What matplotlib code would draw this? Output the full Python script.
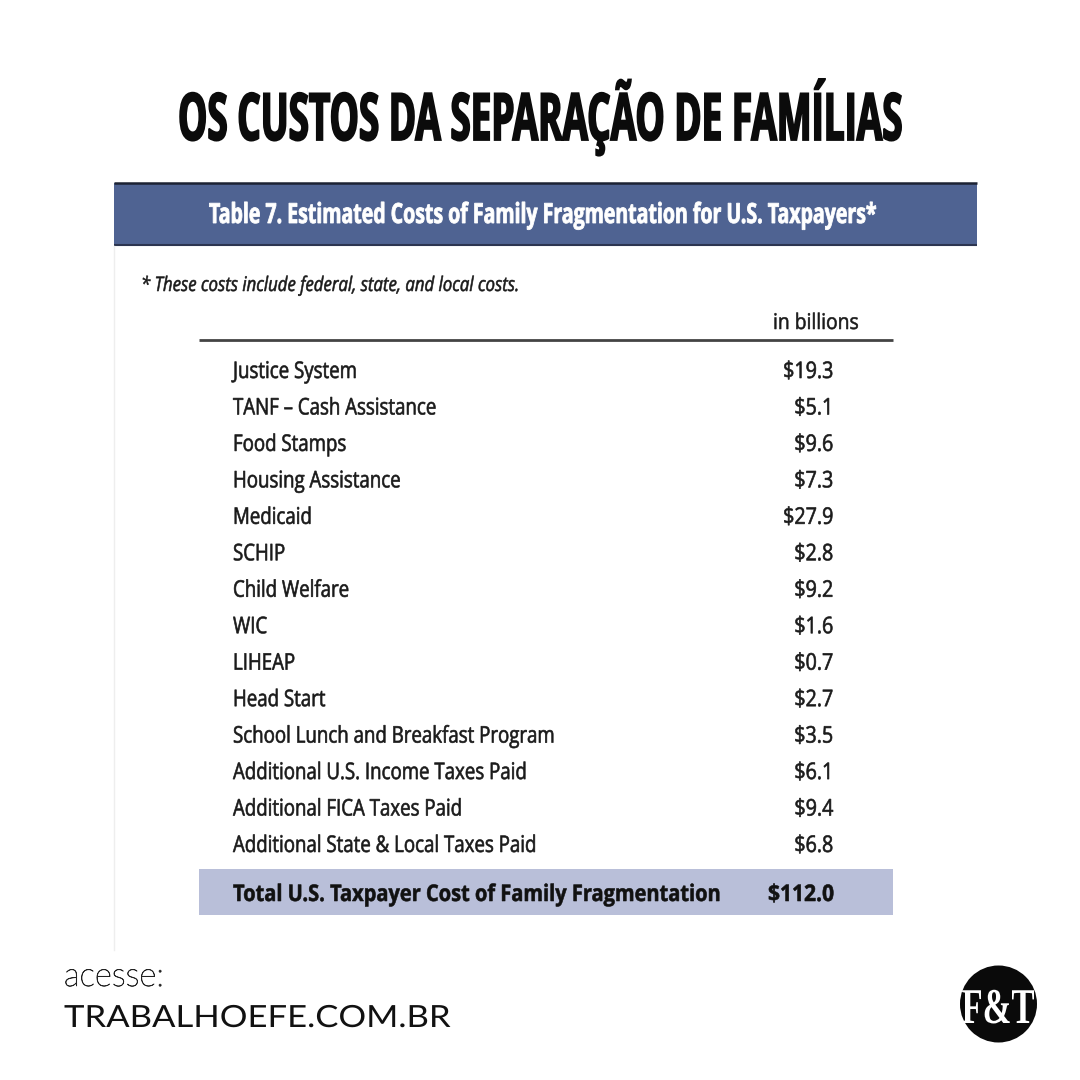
import matplotlib
matplotlib.use("Agg")
import matplotlib.pyplot as plt
import matplotlib.patheffects as pe
from matplotlib.patches import Rectangle, Circle
from matplotlib.text import Text
from matplotlib.transforms import Affine2D, Bbox

title = "OS CUSTOS DA SEPARAÇÃO DE FAMÍLIAS"
table_title = "Table 7. Estimated Costs of Family Fragmentation for U.S. Taxpayers*"
note = "* These costs include federal, state, and local costs."
unit = "in billions"

items = ["Justice System", "TANF – Cash Assistance", "Food Stamps", "Housing Assistance",
         "Medicaid", "SCHIP", "Child Welfare", "WIC", "LIHEAP", "Head Start",
         "School Lunch and Breakfast Program", "Additional U.S. Income Taxes Paid",
         "Additional FICA Taxes Paid", "Additional State & Local Taxes Paid"]
costs = [19.3, 5.1, 9.6, 7.3, 27.9, 2.8, 9.2, 1.6, 0.7, 2.7, 3.5, 6.1, 9.4, 6.8]
total_label = "Total U.S. Taxpayer Cost of Family Fragmentation"
total_cost = 112.0


# sem fonte condensada instalada: aperta o texto na horizontal
class Squeeze(pe.AbstractPathEffect):
    def __init__(self, sx, x0, stroke=0):
        super().__init__()
        self.sx, self.x0, self.stroke = sx, x0, stroke

    def draw_path(self, renderer, gc, tpath, affine, rgbFace=None):
        t = affine + Affine2D().translate(-self.x0, 0).scale(self.sx, 1).translate(self.x0, 0)
        gc0 = renderer.new_gc()
        gc0.copy_properties(gc)
        if self.stroke:
            gc0.set_linewidth(self.stroke)
            gc0.set_foreground(rgbFace)
            gc0.set_joinstyle("miter")
        renderer.draw_path(gc0, tpath, t, rgbFace)
        gc0.restore()


class NarrowText(Text):
    sx = 1.0
    x0 = 0.0

    def get_window_extent(self, renderer=None, dpi=None):
        b = super().get_window_extent(renderer, dpi)
        return Bbox([[self.x0 + (b.x0 - self.x0) * self.sx, b.y0],
                     [self.x0 + (b.x1 - self.x0) * self.sx, b.y1]])


fig = plt.figure(figsize=(10.8, 10.8), dpi=100, facecolor="white")
ax = fig.add_axes([0, 0, 1, 1])
ax.set_xlim(0, 1080)
ax.set_ylim(1080, 0)
ax.axis("off")


def put(x, y, s, size, sx=None, width=None, ha="left", stroke=0, family="Open Sans", **kw):
    t = NarrowText(x, y, s, ha=ha, va="baseline", fontsize=size, family=family, **kw)
    ax.add_artist(t)
    if width is not None:
        w = Text.get_window_extent(t, fig.canvas.get_renderer()).width
        sx = width / w
    x0 = ax.transData.transform((x, y))[0]
    t.sx, t.x0 = sx, x0
    t.set_path_effects([Squeeze(sx, x0, stroke)])
    return t


# titulo
put(540, 140, title, 47, width=724, ha="center", stroke=1.3, fontweight="bold", color="#0b0b0b")

# faixa azul
ax.add_patch(Rectangle((114, 183), 863, 62, fc="#4f6392", ec="none"))
ax.plot([114, 977], [183, 183], color="#1c2233", lw=1.8, solid_capstyle="butt")
ax.plot([114, 977], [245, 245], color="#2c3550", lw=1.5, solid_capstyle="butt")
ax.plot([114, 114], [246, 950], color="#eeeeee", lw=1)
put(542.5, 223, table_title, 20, width=667, ha="center", stroke=0.6, fontweight="bold", color="white")

put(141, 291, note, 14.5, width=378, stroke=0.4, style="italic", color="#1a1a1a")
put(816, 329, unit, 15.5, width=86, ha="center", stroke=0.4, color="#1a1a1a")
ax.plot([199, 893], [340, 340], color="#444444", lw=2, solid_capstyle="butt")

# linhas da tabela
for i, (name, cost) in enumerate(zip(items, costs)):
    y = 378 + i * 36.46
    put(233, y, name, 16.5, sx=0.815, stroke=0.45, color="#1a1a1a")
    put(833, y, f"${cost:.1f}", 16.5, sx=0.86, ha="right", stroke=0.45, color="#1a1a1a")

ax.add_patch(Rectangle((199, 869), 694, 46, fc="#b9bfd9", ec="none"))
put(233, 901, total_label, 16.5, width=487, stroke=0.4, fontweight="bold", color="#111111")
put(834, 901, f"${total_cost:.1f}", 16.5, width=66, ha="right", stroke=0.4, fontweight="bold", color="#111111")

# rodape
put(64, 986, "acesse:", 24, width=100, family="Lato", fontweight="light", stroke=0.5, color="#222222")
put(64, 1027, "TRABALHOEFE.COM.BR", 22, width=385, family="Lato", color="#111111")

# logo
ax.add_patch(Circle((998.5, 1004), 38.5, fc="#0a0a0a", ec="none"))
put(998, 1023, "F&T", 36, width=73, ha="center", family="Liberation Serif", fontweight="bold", color="white")

fig.savefig("out.png", dpi=100, facecolor="white")
